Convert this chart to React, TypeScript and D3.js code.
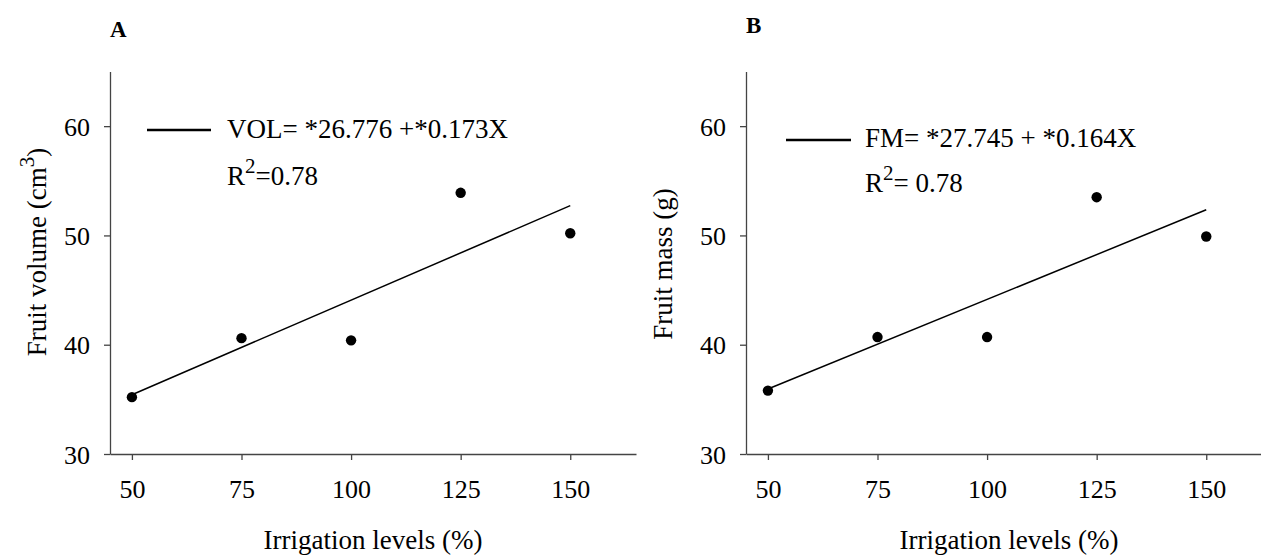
import React, { useRef, useEffect } from 'react';
import * as d3 from 'd3';

// irrigation treatments (% of crop evapotranspiration)
const irrigation = [50, 75, 100, 125, 150];
const fruitVolume = [35.2, 40.6, 40.4, 53.9, 50.2];
const fruitMass = [35.8, 40.7, 40.7, 53.5, 49.9];
const xTicks = [50, 75, 100, 125, 150];
const yTicks = [30, 40, 50, 60];
const volFit = [26.776, 0.173];
const massFit = [27.745, 0.164];

const W = 1261;
const H = 556;
const FONT = '"Liberation Serif", "Times New Roman", serif';

const panels = [
  {
    tag: 'A', left: 110, tagY: 37, values: fruitVolume, fit: volFit,
    eq: 'VOL= *26.776 +*0.173X', r2: '=0.78', ytitle: 'Fruit volume (cm', ysup: '3', ytail: ')',
    titleX: 46, titleY: 252, legY: 130, legTextY: 138, r2Y: 185, legX0: 37, legX1: 101, textDx: 117,
  },
  {
    tag: 'B', left: 746, tagY: 33, values: fruitMass, fit: massFit,
    eq: 'FM= *27.745 + *0.164X', r2: '= 0.78', ytitle: 'Fruit mass (g)', ysup: '', ytail: '',
    titleX: 672, titleY: 264, legY: 140, legTextY: 147, r2Y: 192, legX0: 40, legX1: 105, textDx: 119,
  },
];

const App = () => {
  const svgRef = useRef(null);

  useEffect(() => {
    const svg = d3.select(svgRef.current);
    svg.selectAll('*').remove();

    panels.forEach(p => {
      const x = d3.scaleLinear().domain([45, 165]).range([p.left, p.left + 526]);
      const y = d3.scaleLinear().domain([30, 65]).range([454, 71.5]);
      const g = svg.append('g');

      // axes
      const xAxis = g.append('g')
        .attr('transform', `translate(0,${y(30)})`)
        .call(d3.axisBottom(x).tickValues(xTicks).tickSize(6).tickSizeOuter(0));
      xAxis.selectAll('text').attr('y', 44).attr('dy', 0);

      const yAxis = g.append('g')
        .attr('transform', `translate(${x(45)},0)`)
        .call(d3.axisLeft(y).tickValues(yTicks).tickSize(6).tickSizeOuter(0));
      yAxis.selectAll('text').attr('x', -20).attr('dy', '0.35em');

      g.selectAll('.domain, .tick line').attr('stroke', '#444').attr('stroke-width', 1.3);
      g.selectAll('.tick text')
        .attr('fill', '#000')
        .style('font-family', FONT)
        .style('font-size', '26px');

      // regression line
      const fitLine = d3.line<number>().x(d => x(d)).y(d => y(p.fit[0] + p.fit[1] * d));
      g.append('path')
        .attr('d', fitLine([irrigation[0], irrigation[irrigation.length - 1]]))
        .attr('fill', 'none')
        .attr('stroke', '#000')
        .attr('stroke-width', 1.5);

      // observed means
      g.selectAll('circle')
        .data(p.values)
        .join('circle')
        .attr('cx', (d, i) => x(irrigation[i]))
        .attr('cy', d => y(d))
        .attr('r', 5.2)
        .attr('fill', '#000');

      // legend
      g.append('line')
        .attr('x1', p.left + p.legX0).attr('x2', p.left + p.legX1)
        .attr('y1', p.legY).attr('y2', p.legY)
        .attr('stroke', '#000').attr('stroke-width', 2.5);

      const txt = (sel) => sel.style('font-family', FONT).style('font-size', '27px').attr('fill', '#000');

      g.append('text')
        .attr('x', p.left + p.textDx).attr('y', p.legTextY)
        .call(txt)
        .text(p.eq);

      const r2 = g.append('text')
        .attr('x', p.left + p.textDx).attr('y', p.r2Y)
        .call(txt);
      r2.append('tspan').text('R');
      r2.append('tspan').attr('dy', -12).style('font-size', '21px').text('2');
      r2.append('tspan').attr('dy', 12).text(p.r2);

      // panel tag
      g.append('text')
        .attr('x', p.left).attr('y', p.tagY)
        .style('font-family', FONT).style('font-size', '23px').style('font-weight', 'bold')
        .text(p.tag);

      // axis titles
      g.append('text')
        .attr('x', (x(45) + x(165)) / 2).attr('y', 549)
        .attr('text-anchor', 'middle')
        .call(txt)
        .text('Irrigation levels (%)');

      const yt = g.append('text')
        .attr('transform', `translate(${p.titleX},${p.titleY}) rotate(-90)`)
        .attr('text-anchor', 'middle')
        .call(txt);
      yt.append('tspan').text(p.ytitle);
      if (p.ysup) {
        yt.append('tspan').attr('dy', -12).style('font-size', '21px').text(p.ysup);
        yt.append('tspan').attr('dy', 12).text(p.ytail);
      }
    });
  }, []);

  return (
    <svg
      ref={svgRef}
      width={W}
      height={H}
      style={{ position: 'absolute', left: 0, top: 0, background: '#fff' }}
    />
  );
};

export default App;
